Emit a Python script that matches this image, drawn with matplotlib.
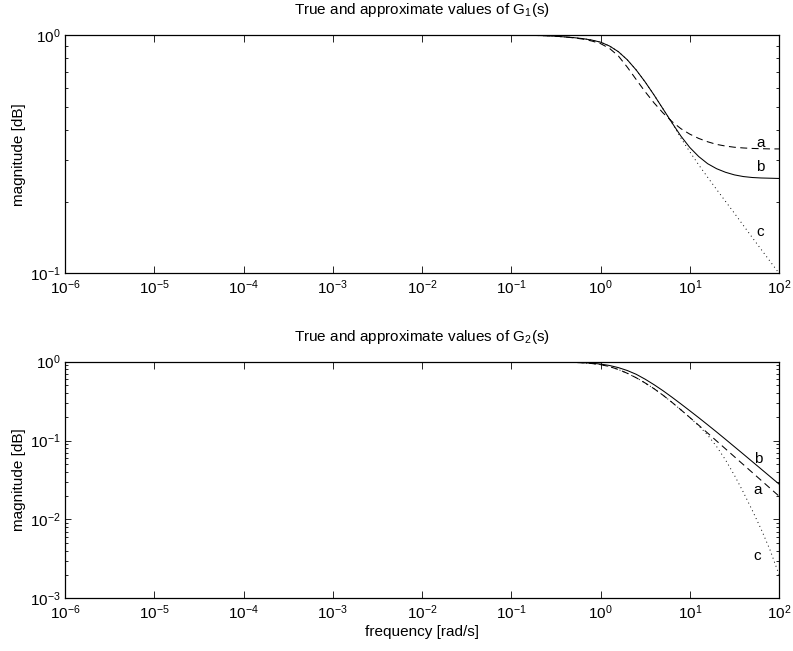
import numpy as np
import matplotlib
matplotlib.use("Agg")
import matplotlib.pyplot as plt
from matplotlib.ticker import LogLocator, NullLocator, NullFormatter

plt.rcParams['font.family'] = ['Liberation Sans', 'DejaVu Sans']
plt.rcParams['mathtext.fontset'] = 'custom'
plt.rcParams['mathtext.rm'] = 'Liberation Sans'
plt.rcParams['mathtext.it'] = 'Liberation Sans:italic'
plt.rcParams['mathtext.bf'] = 'Liberation Sans:bold'
plt.rcParams['lines.scale_dashes'] = False

# log10 of frequency shared by every curve
logw = [-6, -1.0, -0.8, -0.6, -0.5, -0.4, -0.3, -0.2, -0.1, 0.0, 0.1, 0.2, 0.3,
        0.4, 0.5, 0.6, 0.7, 0.8, 0.9, 1.0, 1.1, 1.2, 1.3, 1.4, 1.5, 1.6, 1.7,
        1.8, 1.9, 2.0]

# ---- G1(s): log10 of magnitude ----
g1_a = [0, -0.0006, -0.0012, -0.003, -0.005, -0.008, -0.012, -0.017, -0.025,
        -0.036, -0.056, -0.088, -0.135, -0.187, -0.238, -0.285, -0.327, -0.363,
        -0.393, -0.416, -0.434, -0.448, -0.459, -0.466, -0.471, -0.474, -0.476,
        -0.477, -0.478, -0.478]
g1_b = [0, -0.0005, -0.001, -0.003, -0.005, -0.008, -0.011, -0.015, -0.021,
        -0.030, -0.046, -0.070, -0.104, -0.147, -0.197, -0.252, -0.310, -0.368,
        -0.424, -0.472, -0.510, -0.540, -0.561, -0.576, -0.587, -0.594, -0.598,
        -0.600, -0.601, -0.602]
g1_c = [0, -0.0005, -0.001, -0.003, -0.005, -0.008, -0.011, -0.015, -0.021,
        -0.030, -0.046, -0.070, -0.104, -0.147, -0.197, -0.252, -0.310, -0.368,
        -0.432, -0.490, -0.545, -0.597, -0.648, -0.698, -0.748, -0.799, -0.850,
        -0.900, -0.950, -1.000]

# ---- G2(s): log10 of magnitude ----
g2_a = [0, -0.0004, -0.001, -0.0025, -0.004, -0.006, -0.009, -0.014, -0.023,
        -0.037, -0.062, -0.099, -0.147, -0.204, -0.270, -0.343, -0.425, -0.515,
        -0.610, -0.707, -0.806, -0.905, -1.005, -1.105, -1.205, -1.305, -1.405,
        -1.505, -1.605, -1.705]
g2_b = [0, -0.0003, -0.0008, -0.002, -0.003, -0.005, -0.008, -0.012, -0.019,
        -0.030, -0.048, -0.075, -0.112, -0.160, -0.222, -0.292, -0.368, -0.450,
        -0.535, -0.622, -0.710, -0.800, -0.891, -0.984, -1.078, -1.172, -1.267,
        -1.362, -1.457, -1.552]
g2_c = [0, -0.0004, -0.001, -0.0025, -0.004, -0.006, -0.009, -0.014, -0.023,
        -0.037, -0.062, -0.099, -0.147, -0.204, -0.270, -0.343, -0.425, -0.515,
        -0.610, -0.707, -0.812, -0.930, -1.075, -1.245, -1.440, -1.655, -1.885,
        -2.125, -2.390, -2.700]

# curve tags: (name, log10 w, log10 magnitude)
g1_tags = [("a", 1.79, -0.455), ("b", 1.79, -0.553), ("c", 1.79, -0.826)]
g2_tags = [("b", 1.77, -1.237), ("a", 1.76, -1.626), ("c", 1.755, -2.47)]

panels = [
    dict(a=g1_a, b=g1_b, c=g1_c, tags=g1_tags,
         ylim=(1e-1, 1e0), title="True and approximate values of G$_1$(s)"),
    dict(a=g2_a, b=g2_b, c=g2_c, tags=g2_tags,
         ylim=(1e-3, 1e0), title="True and approximate values of G$_2$(s)"),
]

fig = plt.figure(figsize=(7.93, 6.51), dpi=100)
rects = [[0.082, 0.5802, 0.9004, 0.366], [0.082, 0.081, 0.9004, 0.3634]]

dash_style = (5, 3.2)
dot_style = (0.7, 2.4)
fs = 11

w = 10.0 ** np.array(logw)
for p, r in zip(panels, rects):
    ax = fig.add_axes(r)
    ax.plot(w, 10.0 ** np.array(p["c"]), color="black", lw=0.7,
            linestyle=(0, dot_style))
    ax.plot(w, 10.0 ** np.array(p["a"]), color="black", lw=0.75,
            linestyle=(0, dash_style))
    ax.plot(w, 10.0 ** np.array(p["b"]), color="black", lw=0.75)
    for name, lx, ly in p["tags"]:
        ax.text(10 ** lx, 10 ** ly, name, ha="center", va="center", fontsize=fs)
    ax.set_xscale("log")
    ax.set_yscale("log")
    ax.set_xlim(1e-6, 1e2)
    ax.set_ylim(*p["ylim"])
    ax.xaxis.set_major_locator(LogLocator(base=10, numticks=20))
    ax.xaxis.set_minor_locator(NullLocator())
    ax.yaxis.set_major_locator(LogLocator(base=10, numticks=20))
    ax.yaxis.set_minor_locator(LogLocator(base=10, subs=np.arange(2, 10), numticks=20))
    ax.yaxis.set_minor_formatter(NullFormatter())
    ax.tick_params(which="both", direction="in", top=True, right=True,
                   labelsize=fs, width=0.6)
    ax.tick_params(axis="x", which="major", length=5, pad=4)
    ax.tick_params(axis="y", which="major", length=4, pad=3)
    ax.tick_params(axis="y", which="minor", length=2.2)
    for s in ax.spines.values():
        s.set_linewidth(0.9)
    ax.set_ylabel("magnitude [dB]", fontsize=fs, labelpad=3)
    ax.set_title(p["title"], fontsize=fs, pad=15)

ax.set_xlabel("frequency [rad/s]", fontsize=fs, labelpad=2)

fig.savefig("out.png", dpi=100)
